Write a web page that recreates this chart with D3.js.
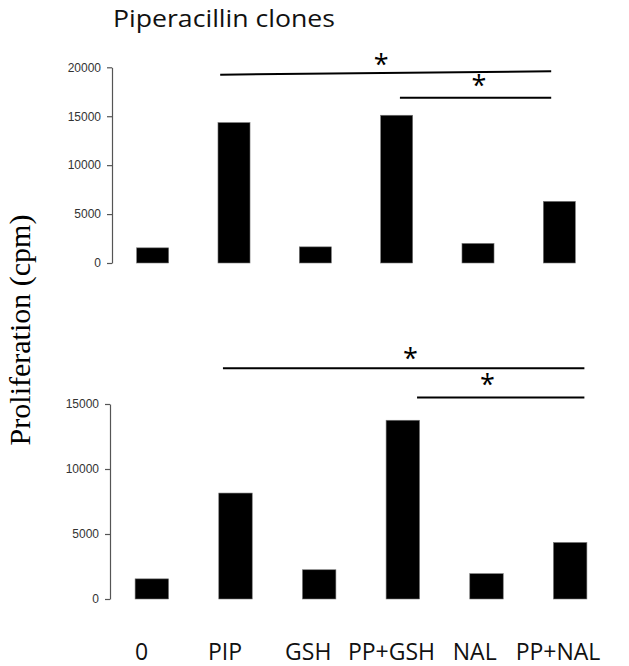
<!DOCTYPE html>
<html>
<head>
<meta charset="utf-8">
<script src="https://cdn.jsdelivr.net/npm/d3@7"></script>
<style>
  html, body { margin: 0; padding: 0; background: #fff; }
  svg { display: block; }
</style>
</head>
<body>
<svg id="chart" width="629" height="666"></svg>
<script>
// ---- data ----
const categories = ["0", "PIP", "GSH", "PP+GSH", "NAL", "PP+NAL"];
const topValues = [1550, 14350, 1650, 15100, 2000, 6300];
const bottomValues = [1550, 8150, 2250, 13750, 1950, 4350];
const topTicks = [0, 5000, 10000, 15000, 20000];
const bottomTicks = [0, 5000, 10000, 15000];
const titleText = "Piperacillin clones";
const yLabelText = "Proliferation (cpm)";
// significance brackets: x in category-index units, y in data units
const topSig = [
  { x1: 0.83, x2: 4.90, y1: 19250, y2: 19600, star: 2.81, starY: 19350 },
  { x1: 3.04, x2: 4.90, y1: 16900, y2: 16900, star: 4.01, starY: 17170 }
];
const bottomSig = [
  { x1: 0.85, x2: 5.17, y1: 17750, y2: 17750, star: 3.09, starY: 17790 },
  { x1: 3.17, x2: 5.17, y1: 15500, y2: 15500, star: 4.01, starY: 15790 }
];

const svg = d3.select("#chart");

function panel(cfg) {
  const x = d3.scaleBand().domain(categories).range(cfg.xRange)
    .paddingInner(cfg.padInner).paddingOuter(cfg.padInner / 2);
  const y = d3.scaleLinear().domain(cfg.domain).range(cfg.yRange);
  const xi = d3.scaleLinear().domain([0, 1])
    .range([x(categories[0]) + x.bandwidth() / 2, x(categories[1]) + x.bandwidth() / 2]);

  const g = svg.append("g");
  const axis = d3.axisLeft(y).tickValues(cfg.ticks).tickSize(5).tickSizeOuter(0).tickPadding(6)
    .tickFormat(d3.format("d"));
  const ag = g.append("g").attr("transform", `translate(${cfg.xRange[0]},0)`).call(axis);
  ag.select(".domain").attr("stroke", "#555").attr("stroke-width", 1.2);
  ag.selectAll(".tick line").attr("stroke", "#555").attr("stroke-width", 1.2);
  ag.selectAll(".tick text").attr("fill", "#333")
    .style("font-family", "'Liberation Sans', Arial, sans-serif").style("font-size", "12px");

  g.selectAll("rect.bar").data(cfg.values).join("rect")
    .attr("class", "bar")
    .attr("x", (d, i) => x(categories[i]))
    .attr("width", x.bandwidth())
    .attr("y", d => y(d))
    .attr("height", d => y(0) - y(d))
    .attr("fill", "#000")
    .attr("stroke", "#777").attr("stroke-width", 0.6);

  g.selectAll("line.sig").data(cfg.sig).join("line")
    .attr("class", "sig")
    .attr("x1", d => xi(d.x1)).attr("x2", d => xi(d.x2))
    .attr("y1", d => y(d.y1)).attr("y2", d => y(d.y2))
    .attr("stroke", "#000").attr("stroke-width", 2);

  g.selectAll("text.star").data(cfg.sig).join("text")
    .attr("class", "star")
    .attr("x", d => xi(d.star))
    .attr("y", d => y(d.starY))
    .attr("text-anchor", "middle")
    .style("font-family", "'Open Sans', sans-serif")
    .style("font-size", "27px")
    .attr("fill", "#000")
    .text("*");
  return x;
}

panel({ values: topValues, ticks: topTicks, domain: [0, 20000], yRange: [263, 67.3],
        xRange: [112, 600], padInner: 0.606, sig: topSig });
panel({ values: bottomValues, ticks: bottomTicks, domain: [0, 15000], yRange: [599, 404],
        xRange: [110, 612], padInner: 0.6, sig: bottomSig });

// title
svg.append("text").attr("x", 113).attr("y", 26.5)
  .attr("textLength", 222).attr("lengthAdjust", "spacingAndGlyphs")
  .style("font-family", "'Open Sans', sans-serif").style("font-size", "24.5px")
  .attr("fill", "#111").text(titleText);

// y label
svg.append("text").attr("transform", "translate(30,330) rotate(-90)")
  .attr("text-anchor", "middle")
  .style("font-family", "'Liberation Serif', 'Times New Roman', serif").style("font-size", "30px")
  .attr("fill", "#000").text(yLabelText);

// category labels
const xl = d3.scalePoint().domain(categories).range([141.7, 558]);
svg.selectAll("text.cat").data(categories).join("text")
  .attr("class", "cat")
  .attr("x", d => xl(d)).attr("y", 660)
  .attr("text-anchor", "middle")
  .style("font-family", "'Open Sans', sans-serif").style("font-size", "23px")
  .attr("fill", "#111").text(d => d);
</script>
</body>
</html>
